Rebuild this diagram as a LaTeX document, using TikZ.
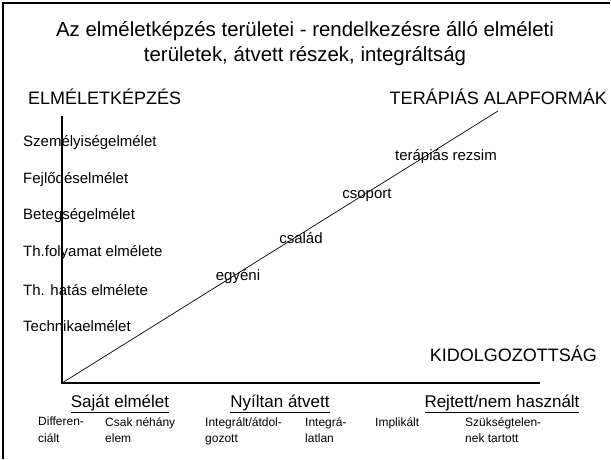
\documentclass[tikz,border=0pt]{standalone}
\usepackage{fontspec}
\setmainfont{Liberation Sans}
\begin{document}
\begin{tikzpicture}[x=1pt,y=-1pt,
  ttl/.style={font=\fontsize{20.4}{24}\selectfont, inner sep=0pt},
  big/.style={font=\fontsize{18}{22}\selectfont, inner sep=0pt},
  mid/.style={font=\fontsize{15}{17}\selectfont, inner sep=0pt, anchor=west},
  diag/.style={font=\fontsize{15}{17}\selectfont, inner sep=0pt},
  head/.style={font=\fontsize{17}{20}\selectfont, inner sep=0pt},
  small/.style={font=\fontsize{12}{16.5}\selectfont, inner sep=0pt, anchor=north west, align=left},
  axis/.style={line width=2pt},
  frame/.style={line width=2.2pt}]
\useasboundingbox (0,0) rectangle (611,459);
\draw[frame] (3,459) -- (3,3) -- (610,3);
\node[ttl, align=center] (title) at (305,44) {Az elméletképzés területei - rendelkezésre álló elméleti\\[1pt]területek, átvett részek, integráltság};
\node[big, anchor=west] (elm) at (28,97) {ELMÉLETKÉPZÉS};
\node[big, anchor=east] (ter) at (607,97) {TERÁPIÁS ALAPFORMÁK};
\node[big, anchor=east] (kid) at (597,354) {KIDOLGOZOTTSÁG};
\coordinate (o) at (62,383);
\coordinate (ytop) at (62,116);
\coordinate (xend) at (540,383);
\coordinate (dend) at (498,111);
\draw[axis] (ytop) -- (o) -- (xend);
\draw[line width=0.7pt] (o) -- (dend);
\node[mid] (t1) at (23,143) {Személyiségelmélet};
\node[mid] (t2) at (23,180) {Fejlődéselmélet};
\node[mid] (t3) at (23,216) {Betegségelmélet};
\node[mid] (t4) at (23,253) {Th.folyamat elmélete};
\node[mid] (t5) at (23,290) {Th. hatás elmélete};
\node[mid] (t6) at (23,326) {Technikaelmélet};
\node[diag] (d1) at (238,277) {egyéni};
\node[diag] (d2) at (301,238) {család};
\node[diag] (d3) at (367,195) {csoport};
\node[diag] (d4) at (446,157) {terápiás rezsim};
\node[head] (h1) at (120,404) {\underline{Saját elmélet}};
\node[head] (h2) at (280,404) {\underline{Nyíltan átvett}};
\node[head] (h3) at (502,404) {\underline{Rejtett/nem használt}};
\node[small] (s1) at (38,417) {Differen-\\ciált};
\node[small] (s2) at (105,417) {Csak néhány\\elem};
\node[small] (s3) at (205,417) {Integrált/átdol-\\gozott};
\node[small] (s4) at (305,417) {Integrá-\\latlan};
\node[small] (s5) at (375,417) {Implikált};
\node[small] (s6) at (465,417) {Szükségtelen-\\nek tartott};
\end{tikzpicture}
\end{document}
